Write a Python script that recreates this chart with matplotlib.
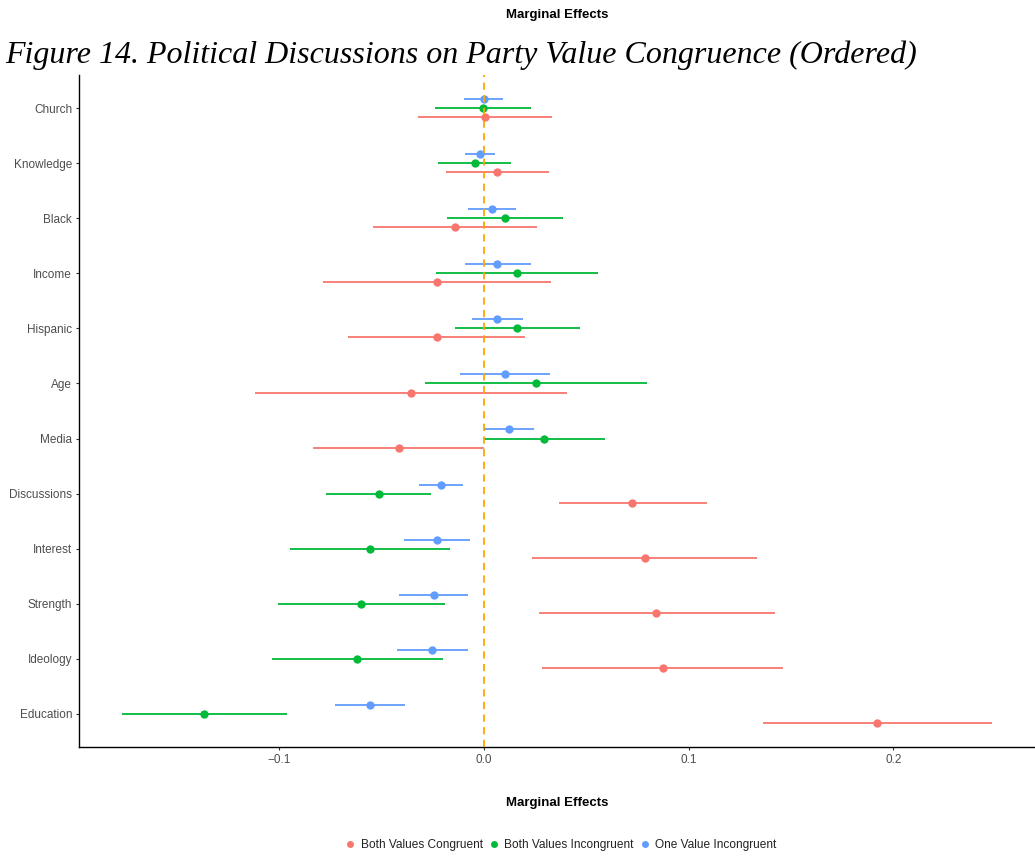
import numpy as np
import matplotlib
matplotlib.use('Agg')
import matplotlib.pyplot as plt
from matplotlib.lines import Line2D

# rows, top to bottom
categories = ['Church', 'Knowledge', 'Black', 'Income', 'Hispanic', 'Age',
              'Media', 'Discussions', 'Interest', 'Strength', 'Ideology', 'Education']

# Both Values Congruent
cong_est = [0.0005, 0.0063, -0.0143, -0.0228, -0.0230, -0.0356, -0.0416, 0.0725, 0.0785, 0.0843, 0.0873, 0.1920]
cong_lo = [-0.0322, -0.0186, -0.0543, -0.0787, -0.0662, -0.1119, -0.0836, 0.0366, 0.0237, 0.0268, 0.0282, 0.1364]
cong_hi = [0.0332, 0.0316, 0.0258, 0.0329, 0.0202, 0.0407, 0.0000, 0.1090, 0.1335, 0.1422, 0.1462, 0.2480]

# Both Values Incongruent
incong_est = [-0.0005, -0.0045, 0.0102, 0.0162, 0.0164, 0.0253, 0.0295, -0.0513, -0.0556, -0.0598, -0.0619, -0.1365]
incong_lo = [-0.0236, -0.0224, -0.0181, -0.0235, -0.0143, -0.0288, 0.0000, -0.0771, -0.0948, -0.1007, -0.1037, -0.1765]
incong_hi = [0.0230, 0.0133, 0.0385, 0.0559, 0.0470, 0.0797, 0.0594, -0.0258, -0.0165, -0.0188, -0.0198, -0.0962]

# One Value Incongruent
one_est = [0.0000, -0.0021, 0.0040, 0.0065, 0.0066, 0.0104, 0.0121, -0.0211, -0.0227, -0.0243, -0.0253, -0.0558]
one_lo = [-0.0097, -0.0091, -0.0075, -0.0094, -0.0058, -0.0118, 0.0000, -0.0316, -0.0389, -0.0413, -0.0424, -0.0728]
one_hi = [0.0094, 0.0055, 0.0159, 0.0230, 0.0193, 0.0324, 0.0243, -0.0104, -0.0066, -0.0075, -0.0079, -0.0385]

series_names = ['Both Values Congruent', 'Both Values Incongruent', 'One Value Incongruent']
series_colors = ['#F8766D', '#00BA38', '#619CFF']

plt.rcParams['font.family'] = ['Liberation Sans', 'DejaVu Sans']

fig = plt.figure(figsize=(10.35, 8.57), dpi=100)
ax = fig.add_axes([79 / 1035, 110 / 857, 956 / 1035, 672 / 857])

n = len(categories)
ypos = np.arange(n, 0, -1)  # Church at top
dodge = 0.165
offsets = [-dodge, 0.0, dodge]  # pink below, green center, blue above

series = [(cong_est, cong_lo, cong_hi), (incong_est, incong_lo, incong_hi), (one_est, one_lo, one_hi)]
for (est, lo, hi), off, col in zip(series, offsets, series_colors):
  y = ypos + off
  ax.hlines(y, lo, hi, color=col, linewidth=1.3, zorder=2)
  ax.plot(est, y, 'o', color=col, markersize=6, markeredgewidth=0, zorder=3)

ax.axvline(0, color='#FFA500', linestyle=(0, (4, 3)), linewidth=1.3, zorder=4)

all_lo = min(min(cong_lo), min(incong_lo), min(one_lo))
all_hi = max(max(cong_hi), max(incong_hi), max(one_hi))
pad = (all_hi - all_lo) * 0.05
ax.set_xlim(all_lo - pad, all_hi + pad)
ax.set_ylim(0.4, n + 0.6)

ax.set_xticks([-0.1, 0.0, 0.1, 0.2])
ax.set_xticklabels(['\u22120.1', '0.0', '0.1', '0.2'])
ax.set_yticks(ypos)
ax.set_yticklabels(categories)
ax.tick_params(axis='both', length=2.5, width=0.8, color='#333333', labelcolor='#4D4D4D',
               labelsize=8.5, pad=2.5)

for s in ['top', 'right']:
  ax.spines[s].set_visible(False)
for s in ['left', 'bottom']:
  ax.spines[s].set_linewidth(1.0)
  ax.spines[s].set_color('black')

cx = (79 + 1035) / 2 / 1035
fig.text(cx, 1 - 15 / 857, 'Marginal Effects', ha='center', va='center', fontsize=9.5, fontweight='bold')
fig.text(5 / 1035, 1 - 63 / 857, 'Figure 14. Political Discussions on Party Value Congruence (Ordered)',
         ha='left', va='baseline', fontsize=23, style='italic', family=['Liberation Serif', 'DejaVu Serif'])
fig.text(cx, 1 - 803 / 857, 'Marginal Effects', ha='center', va='center', fontsize=9.5, fontweight='bold')

handles = [Line2D([], [], marker='o', linestyle='', color=c, markersize=5, markeredgewidth=0) for c in series_colors]
leg = fig.legend(handles, series_names, loc='center', bbox_to_anchor=(561 / 1035, 1 - 845 / 857), ncol=3,
                 frameon=False, fontsize=8.6, handletextpad=0.5, columnspacing=0.5, handlelength=0.8)
for t in leg.get_texts():
  t.set_color('#222222')

fig.savefig('out.png', dpi=100)
